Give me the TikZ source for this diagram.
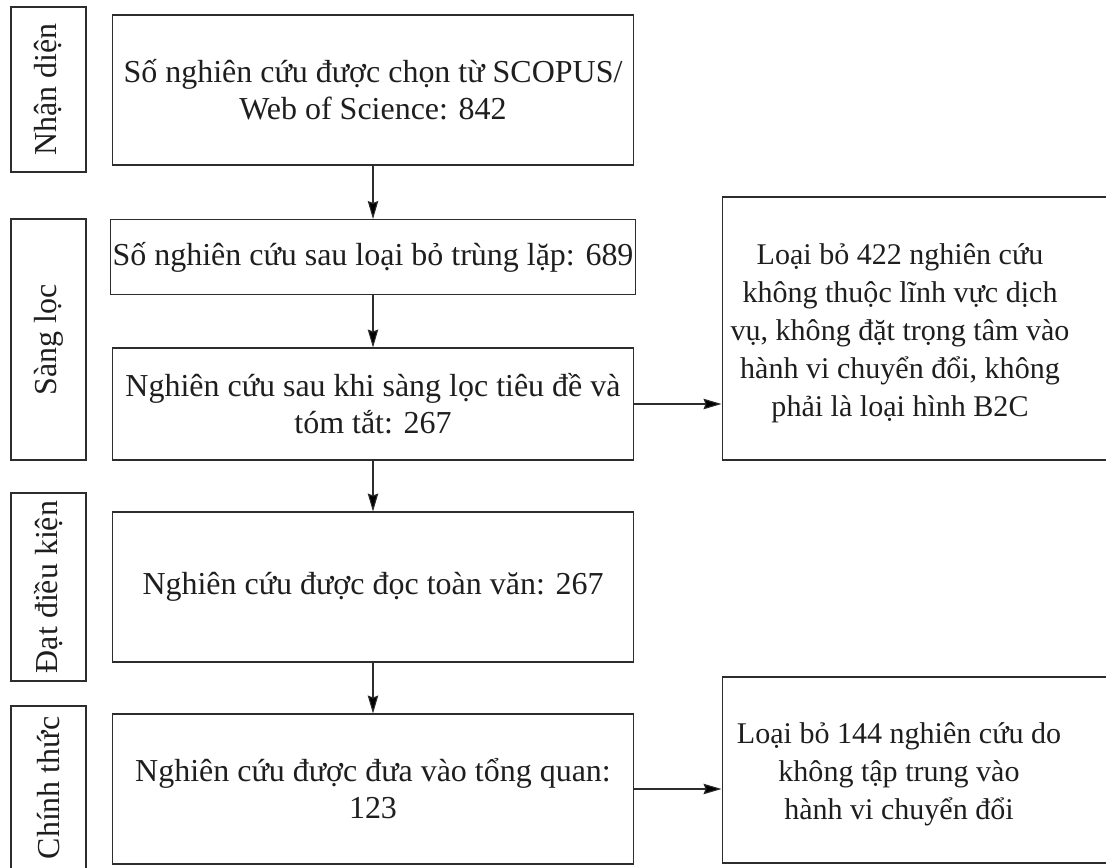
\documentclass[tikz,border=0pt]{standalone}
\usepackage{fontspec}
\setmainfont{Liberation Serif}
\usetikzlibrary{arrows.meta}
\definecolor{box_gray}{RGB}{45,45,45}
\definecolor{text_gray}{RGB}{30,30,30}

\begin{document}
\begin{tikzpicture}[->,semithick,>={Stealth[length=3.6mm,width=2.1mm,inset=0.4mm]},x=0.02cm,y=-0.02cm]
    \tikzstyle{box}=[draw=box_gray, rectangle, minimum width=10.44cm, inner sep=1pt, align=center, text=text_gray, font=\fontsize{18.2}{21}\selectfont]
    \tikzstyle{stage}=[style=box, rotate=90, minimum height=1.5cm, minimum width=3cm]
    \tikzstyle{side}=[style=box, minimum width=7.96cm]
    \tikzstyle{note}=[inner sep=0pt, align=center, text=text_gray, font=\fontsize{17.1}{21.6}\selectfont]

    \useasboundingbox (0,0) rectangle (1106,868);
    \clip (0,0) rectangle (1106,868);

    % stages
    \node[stage, minimum width=3.3cm]  (nd) at (48.5,89.5) {Nhận diện};
    \node[stage, minimum width=4.82cm] (sl) at (48.5,339.5) {Sàng lọc};
    \node[stage, minimum width=3.76cm] (dk) at (48.5,587)  {Đạt điều kiện};
    \node[stage, minimum width=3.28cm] (ct) at (48.5,788)  {Chính thức};

    % main flow
    \node[box, minimum height=3cm]    (b1) at (373,90)  {Số nghiên cứu được chọn từ SCOPUS/\\Web of Science: 842};
    \node[box, minimum height=1.5cm]  (b2) at (373,257) {Số nghiên cứu sau loại bỏ trùng lặp: 689};
    \node[box, minimum height=2.24cm] (b3) at (373,404) {Nghiên cứu sau khi sàng lọc tiêu đề và\\tóm tắt: 267};
    \node[box, minimum height=3cm]    (b4) at (373,587) {Nghiên cứu được đọc toàn văn: 267};
    \node[box, minimum height=3cm]    (b5) at (373,789) {Nghiên cứu được đưa vào tổng quan:\\123};

    % excluded
    \node[side, minimum height=5.26cm] (r1) at (921,328.5) {};
    \node[side, minimum height=3.72cm] (r2) at (921,770) {};
    \node[note] (t1) at (900,333) {Loại bỏ 422 nghiên cứu\\không thuộc lĩnh vực dịch\\vụ, không đặt trọng tâm vào\\hành vi chuyển đổi, không\\phải là loại hình B2C};
    \node[note] (t2) at (899,774) {Loại bỏ 144 nghiên cứu do\\không tập trung vào\\hành vi chuyển đổi};

    \path[draw=box_gray]
     (b1) edge (b2)
     (b2) edge (b3)
     (b3) edge (b4)
     (b4) edge (b5)
     (b3) edge (b3 -| r1.west)
     (b5) edge (b5 -| r2.west)
     ;
\end{tikzpicture}
\end{document}
